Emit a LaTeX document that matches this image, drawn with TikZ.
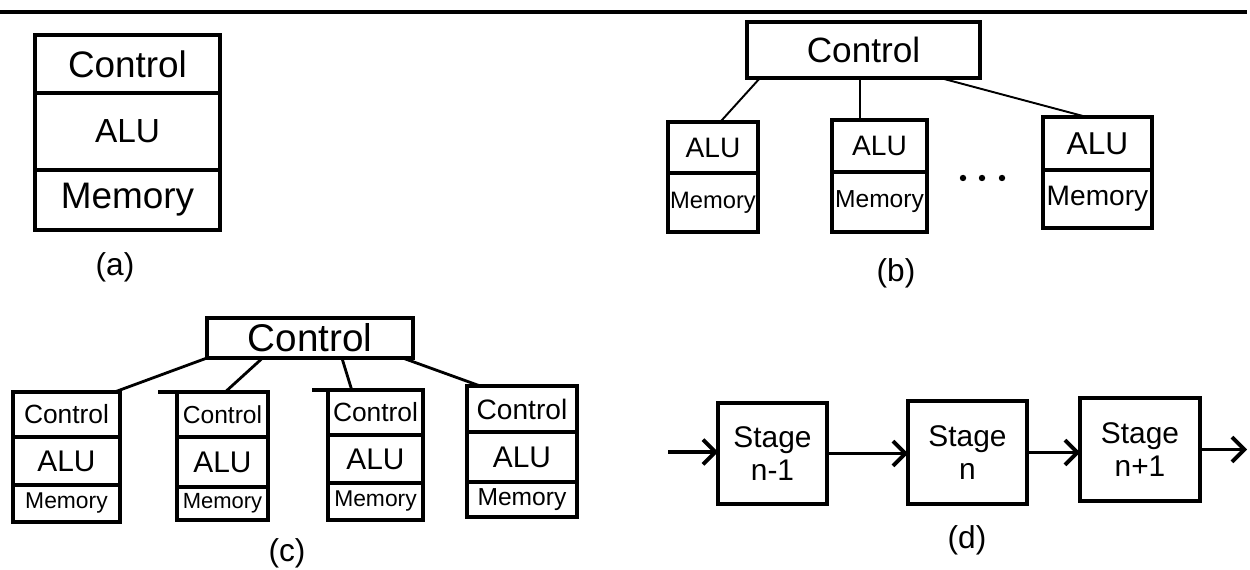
\documentclass[tikz,border=0pt]{standalone}
\usepackage{fontspec}
\setmainfont{Liberation Sans}
\usetikzlibrary{arrows.meta,calc}
\newcommand{\fs}[1]{\fontsize{#1}{#1}\selectfont}
\tikzset{
  cell/.style={draw, line width=1.9pt, inner sep=0pt, outer sep=0pt, anchor=north west},
  lbl/.style={inner sep=0pt, font=\fs{18}},
  conn/.style={line width=1.1pt},
  connc/.style={line width=1.6pt},
  arr/.style={line width=2.2pt, -{Straight Barb[length=7pt,width=14pt,line width=2.2pt]}},
  rule/.style={line width=2.3pt}
}
\begin{document}
\begin{tikzpicture}[x=0.02cm,y=-0.02cm]
\useasboundingbox (0,0) rectangle (1250,570);
% top rule
\coordinate (rl) at (0,12);
\coordinate (rr) at (1247,12);
\draw[rule] (rl) -- (rr);

% ---------------- (a)
\node[cell, minimum width=3.7cm, minimum height=1.16cm, font=\fs{21}] (a1) at (35,35) {Control};
\node[cell, minimum width=3.7cm, minimum height=1.54cm, font=\fs{19}] (a2) at (a1.south west) {ALU\hspace{1.2em}};
\node[cell, minimum width=3.7cm, minimum height=1.2cm, font=\fs{21}] (a3) at (a2.south west) {Memory};
\node[lbl] (la) at (115,267) {(a)};

% ---------------- (b)
\node[cell, minimum width=4.66cm, minimum height=1.12cm, font=\fs{20}] (bc) at (747,22) {Control};
\node[cell, minimum width=1.8cm, minimum height=1.02cm, font=\fs{16}] (b1a) at (668,122) {ALU};
\node[cell, minimum width=1.8cm, minimum height=1.18cm, font=\fs{13.5}] (b1m) at (b1a.south west) {Memory};
\node[cell, minimum width=1.9cm, minimum height=1.04cm, font=\fs{16}] (b2a) at (832,120) {ALU};
\node[cell, minimum width=1.9cm, minimum height=1.2cm, font=\fs{14}] (b2m) at (b2a.south west) {Memory};
\node[cell, minimum width=2.18cm, minimum height=1.06cm, font=\fs{18}] (b3a) at (1043,117) {ALU};
\node[cell, minimum width=2.18cm, minimum height=1.16cm, font=\fs{16}] (b3m) at (b3a.south west) {Memory};
\draw[conn] ($(bc.south west)!0.056!(bc.south east)$) -- ($(b1a.north west)!0.58!(b1a.north east)$);
\draw[conn] ($(bc.south west)!0.485!(bc.south east)$) -- ($(b2a.north west)!0.295!(b2a.north east)$);
\draw[conn] ($(bc.south west)!0.83!(bc.south east)$) -- ($(b3a.north west)!0.40!(b3a.north east)$);
\fill (963,178) circle (3.2);
\fill (982,178) circle (3.2);
\fill (1002,178) circle (3.2);
\node[lbl] (lb) at (896,273) {(b)};

% ---------------- (c)
\node[cell, minimum width=4.12cm, minimum height=0.8cm, font=\fs{22}] (cc) at (207,318) {Control};
% unit 1
\node[cell, minimum width=2.14cm, minimum height=0.9cm, font=\fs{15}] (c1c) at (13,392) {Control};
\node[cell, minimum width=2.14cm, minimum height=0.96cm, font=\fs{17}] (c1a) at (c1c.south west) {ALU};
\node[cell, minimum width=2.14cm, minimum height=0.74cm, font=\fs{13}] (c1m) at (c1a.south west) {Memory};
% unit 2
\node[cell, minimum width=1.82cm, minimum height=0.9cm, font=\fs{14}] (c2c) at (177,392) {Control};
\node[cell, minimum width=1.82cm, minimum height=1.0cm, font=\fs{17}] (c2a) at (c2c.south west) {ALU};
\node[cell, minimum width=1.82cm, minimum height=0.66cm, font=\fs{12.5}] (c2m) at (c2a.south west) {Memory};
% unit 3
\node[cell, minimum width=1.9cm, minimum height=0.9cm, font=\fs{15}] (c3c) at (328,390) {Control};
\node[cell, minimum width=1.9cm, minimum height=0.96cm, font=\fs{17}] (c3a) at (c3c.south west) {ALU};
\node[cell, minimum width=1.9cm, minimum height=0.74cm, font=\fs{13}] (c3m) at (c3a.south west) {Memory};
% unit 4
\node[cell, minimum width=2.2cm, minimum height=0.92cm, font=\fs{16}] (c4c) at (467,386) {Control};
\node[cell, minimum width=2.2cm, minimum height=1.0cm, font=\fs{17}] (c4a) at (c4c.south west) {ALU};
\node[cell, minimum width=2.2cm, minimum height=0.7cm, font=\fs{14}] (c4m) at (c4a.south west) {Memory};
% top edges drawn a little past the boxes
\draw[line width=1.9pt] (c2c.north west) -- ++(-19,0);
\draw[line width=1.9pt] (c3c.north west) -- ++(-16,0);
\draw[connc] (cc.south west) -- ($(c1c.north west)!0.95!(c1c.north east)$);
\draw[connc] ($(cc.south west)!0.27!(cc.south east)$) -- ($(c2c.north west)!0.53!(c2c.north east)$);
\draw[connc] ($(cc.south west)!0.655!(cc.south east)$) -- ($(c3c.north west)!0.25!(c3c.north east)$);
\draw[connc] ($(cc.south west)!0.95!(cc.south east)$) -- ($(c4c.north west)!0.12!(c4c.north east)$);
\node[lbl] (lc) at (287,553) {(c)};

% ---------------- (d)
\node[cell, minimum width=2.18cm, minimum height=2.02cm, font=\fs{17}, align=center] (d1) at (718,403) {Stage\\[2pt]n-1};
\node[cell, minimum width=2.38cm, minimum height=2.06cm, font=\fs{17}, align=center] (d2) at (908,401) {Stage\\[2pt]n};
\node[cell, minimum width=2.4cm, minimum height=2.06cm, font=\fs{17}, align=center] (d3) at (1080,398) {Stage\\[2pt]n+1};
\coordinate (din) at (668,452);
\coordinate (dout) at (1247,450);
\draw[arr] (din) -- (din -| d1.west);
\draw[arr] (d1.east) -- (d1.east -| d2.west);
\draw[arr] (d2.east) -- (d2.east -| d3.west);
\draw[arr] (d3.east) -- (d3.east -| dout);
\node[lbl] (ld) at (967,540) {(d)};
\end{tikzpicture}
\end{document}
